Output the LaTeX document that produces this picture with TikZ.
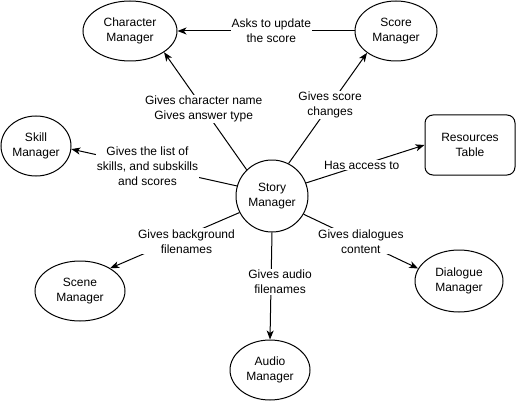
\documentclass[tikz,border=0pt]{standalone}
\usepackage{fontspec}
\setmainfont{Liberation Sans}
\usetikzlibrary{shapes.geometric,arrows.meta}

\begin{document}
\begin{tikzpicture}[x=1pt,y=-1pt,line width=1pt,font=\fontsize{12}{15}\selectfont]
\tikzstyle{every node}+=[inner sep=0pt,align=center]
\tikzstyle{mgr}=[draw,ellipse,minimum height=60pt]
\tikzstyle{link}=[-{Stealth[length=9pt,width=7pt,inset=2.5pt]}]
\tikzstyle{lbl}=[fill=white,inner sep=1pt]
\useasboundingbox (0,0) rectangle (516,401);
\node [draw,circle,minimum size=72pt] (story) at (272,196) {Story\\Manager};
\node [mgr,minimum width=94pt] (charmgr) at (130,31) {Character\\Manager};
\node [mgr,minimum width=82pt] (scoremgr) at (396,31) {Score\\Manager};
\node [mgr,minimum width=70pt] (skillmgr) at (36,146) {Skill\\Manager};
\node [draw,rounded corners=8pt,minimum width=90pt,minimum height=60pt] (restable) at (470,145) {Resources\\Table};
\node [mgr,minimum width=90pt] (scenemgr) at (80,291) {Scene\\Manager};
\node [mgr,minimum width=88pt,minimum height=62pt] (dialoguemgr) at (459,281) {Dialogue\\Manager};
\node [mgr,minimum width=80pt] (audiomgr) at (270,370) {Audio\\Manager};
% connectors
\draw [link] (scoremgr.west) -- node[lbl,pos=0.47] {Asks to update\\the score} (charmgr.east);
\draw [link] (story.134) -- node[lbl,pos=0.52] {Gives character name\\Gives answer type} (charmgr.328);
\draw [link] (story.63) -- node[lbl,pos=0.53] {Gives score\\changes} (scoremgr.217);
\draw [link] (story.21) -- node[lbl,pos=0.47] {Has access to} (restable.west);
\draw [link] (story.164) -- node[lbl,pos=0.54] {Gives the list of\\skills, and subskills\\and scores} (skillmgr.355);
\draw [link] (story.207) -- node[lbl,pos=0.41,yshift=-6pt] {Gives background\\filenames} (scenemgr.37);
\draw [link] (story.south) -- node[lbl,pos=0.46,xshift=9pt] {Gives audio\\filenames} (audiomgr.north);
\draw [link] (story.330) -- node[lbl] {Gives dialogues\\content} (dialoguemgr.163);
\end{tikzpicture}
\end{document}
